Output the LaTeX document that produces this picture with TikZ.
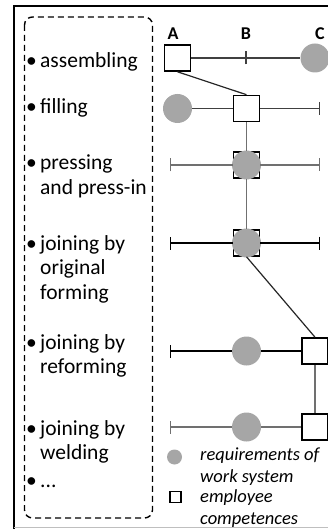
\documentclass[tikz,border=0pt]{standalone}
\usepackage{fontspec}
\setmainfont{Carlito}
\usetikzlibrary{arrows.meta}
\definecolor{reqgray}{HTML}{A6A6A6}
\definecolor{lnA}{HTML}{404040}
\definecolor{lnB}{HTML}{707070}
\begin{document}
\begin{tikzpicture}[x=1pt,y=-1pt,
  item/.style={anchor=base west, inner sep=0, font=\fontsize{21.5}{24.5}\selectfont},
  bul/.style={anchor=base, inner sep=0, font=\fontsize{21.5}{24.5}\selectfont},
  lbl/.style={anchor=base west, inner sep=0, font=\fontsize{18.5}{22}\selectfont\itshape},
  col/.style={inner sep=0, font=\fontsize{18}{20}\selectfont\bfseries},
  sq/.style={draw=black, line width=1.6pt, fill=white, rectangle, minimum size=26pt, inner sep=0},
  req/.style={circle, fill=reqgray, minimum size=29pt, inner sep=0},
  hline/.style={line width=1.2pt},
  vline/.style={draw=lnB, line width=1.8pt},
  tickend/.style={{Bar[width=13pt,line width=1.2pt]}-},
]
\useasboundingbox (0,0) rectangle (327,529);
% outer frame
\draw[line width=1.8pt] (13.8,530) -- (13.8,6) -- (340,6);
\draw[black!25, line width=1pt] (13.8,527.8) -- (340,527.8);
% dashed box
\draw[line width=1.4pt, dash pattern=on 6pt off 4pt, rounded corners=8pt] (24.5,17) rectangle (152.5,518);

% list items
\node[bul] (b1) at (31.5,68) {•};  \node[item] (t1) at (40,68) {assembling};
\node[bul] (b2) at (31.5,114) {•}; \node[item] (t2) at (40,114) {filling};
\node[bul] (b3) at (31.5,170) {•}; \node[item] (t3) at (40,170) {pressing};
\node[item] (t3b) at (40,194.5) {and press-in};
\node[bul] (b4) at (31.5,250) {•}; \node[item] (t4) at (40,250) {joining by};
\node[item] (t4b) at (40,274.5) {original};
\node[item] (t4c) at (40,299) {forming};
\node[bul] (b5) at (31.5,349) {•}; \node[item] (t5) at (40,349) {joining by};
\node[item] (t5b) at (40,373.5) {reforming};
\node[bul] (b6) at (31.5,435) {•}; \node[item] (t6) at (40,435) {joining by};
\node[item] (t6b) at (40,459.5) {welding};
\node[bul] (b7) at (31.5,487) {•}; \node[item] (t7) at (40,487) {...};

% column labels
\node[col] (cA) at (173,33.5) {A};
\node[col] (cB) at (246,33.5) {B};
\node[col] (cC) at (320,33.5) {C};

% row 1
\node[sq] (s1) at (177.5,58) {};
\coordinate (m1) at (246,58);
\node[req] (c1) at (315,58) {};
\draw[hline, lnA] (s1) -- (c1);
\draw[hline, lnA] ([yshift=-6.5pt]m1) -- ([yshift=6.5pt]m1);

% row 2
\node[req] (c2) at (177.5,108.5) {};
\node[sq] (s2) at (246.5,108.5) {};
\coordinate (r2) at (320,108.5);
\draw[hline, lnA] (c2) -- (s2);
\draw[hline, lnA, -{Bar[width=13pt,line width=1.2pt]}] (s2) -- (r2);

% row 3
\coordinate (l3) at (170,165);
\node[sq] (s3) at (246.5,165) {};
\node[req] (c3) at (246.5,165) {};
\coordinate (r3) at (320,165);
\draw[hline, lnB, tickend] (l3) -- (s3);
\draw[hline, lnB, -{Bar[width=13pt,line width=1.2pt]}] (s3) -- (r3);

% row 4
\coordinate (l4) at (170,243);
\node[sq] (s4) at (246.5,243) {};
\node[req] (c4) at (246.5,243) {};
\coordinate (r4) at (320,243);
\draw[hline, black, tickend] (l4) -- (s4);
\draw[hline, black, -{Bar[width=13pt,line width=1.2pt]}] (s4) -- (r4);

% row 5
\coordinate (l5) at (170,351);
\node[req] (c5) at (246.5,351) {};
\node[sq] (s5) at (315,351) {};
\draw[hline, black, tickend] (l5) -- (c5);
\draw[hline, black] (c5) -- (s5);

% row 6
\coordinate (l6) at (170,427);
\node[req] (c6) at (246.5,427) {};
\node[sq] (s6) at (315,427) {};
\draw[hline, lnB, tickend] (l6) -- (c6);
\draw[hline, lnB] (c6) -- (s6);

% connectors between rows
\draw[line width=1.2pt, black!85] (s1.south) -- (s2.north);
\draw[vline] (s2.south) -- (s3.north);
\draw[vline] (s3.south) -- (s4.north);
\draw[line width=1.2pt, black!85] (s4.south) -- (s5.north);
\draw[vline] (s5.south) -- (s6.north);

% legend
\node[circle, fill=reqgray, minimum size=15pt, inner sep=0] (lc) at (174.5,457) {};
\node[draw=black, line width=1.4pt, rectangle, minimum size=11pt, inner sep=0] (ls) at (175.5,497) {};
\node[lbl] (l1) at (200,460) {requirements of};
\node[lbl] (l2) at (200,482.5) {work system};
\node[lbl] (l3t) at (200,502) {employee};
\node[lbl] (l4t) at (200,524.5) {competences};
\end{tikzpicture}
\end{document}
